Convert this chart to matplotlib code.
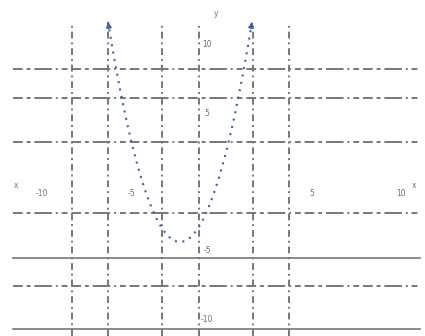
import numpy as np
import matplotlib
matplotlib.use("Agg")
import matplotlib.pyplot as plt

# Curve y = x^2 + 4x drawn from x = -6 to x = 2
x_start, x_end = -6.0, 2.0
coef_a, coef_b, coef_c = 1.0, 4.0, 0.0

# Grid lines (data units)
vgrid_x = [-8.0, -6.0, -3.0, -0.94, 2.06, 4.06]
hgrid_dashdot_y = [8.6, 6.5, 3.3, -1.9, -7.2]
hgrid_solid_y = [-5.2, -10.3]

# Axis labels and tick labels
x_tick_vals = [-10, -5, 5, 10]
x_tick_text = ["-10", "-5", "5", "10"]
y_tick_vals = [10, 5, -5, -10]
y_tick_text = ["10", "5", "-5", "-10"]

fig = plt.figure(figsize=(4.25, 3.36), dpi=100)
ax = fig.add_axes([0, 0, 1, 1])
ax.set_xlim(-12.0, 11.61)
ax.set_ylim(-10.84, 13.6)
ax.axis("off")

grid_color = "#777777"
line_left, line_right = -11.28, 11.33
vtop = 12.0

for gx in vgrid_x:
    ax.plot([gx, gx], [ax.get_ylim()[0], vtop], color=grid_color, lw=1.4,
            linestyle=(0, (3.5, 2, 1, 2)), zorder=1)

for gy in hgrid_dashdot_y:
    ax.plot([line_left, line_right], [gy, gy], color=grid_color, lw=1.4,
            linestyle=(0, (5, 2, 2, 2, 9, 2, 1, 2, 3, 2)), zorder=1)

for gy in hgrid_solid_y:
    ax.plot([line_left, line_right], [gy, gy], color=grid_color, lw=1.2,
            linestyle="-", zorder=1)

xs = np.linspace(x_start, x_end, 400)
ys = coef_a * xs ** 2 + coef_b * xs + coef_c
ax.plot(xs, ys, color="#3b62b0", lw=1.5, linestyle=(0, (1, 2.6)), zorder=3)

# Small arrow heads on both ends of the curve
for i_from, i_to in [(3, 0), (-4, -1)]:
    ax.annotate("", xy=(xs[i_to], ys[i_to]), xytext=(xs[i_from], ys[i_from]),
                arrowprops=dict(arrowstyle="-|>", color="#3b62b0", lw=1.0,
                                mutation_scale=8, shrinkA=0, shrinkB=0),
                zorder=4)

txt_kw = dict(fontsize=5.5, color="#333333", alpha=0.7)
for v, t in zip(x_tick_vals, x_tick_text):
    ax.text(v + 0.3, -0.5, t, ha="center", va="center", **txt_kw)
for v, t in zip(y_tick_vals, y_tick_text):
    ax.text(-0.5, v + 0.35, t, ha="center", va="center", **txt_kw)
ax.text(-11.1, 0.1, "x", ha="center", va="center", **txt_kw)
ax.text(11.0, 0.1, "x", ha="center", va="center", **txt_kw)
ax.text(0.0, 12.6, "y", ha="center", va="center", **txt_kw)

fig.savefig("out.png", dpi=100)
